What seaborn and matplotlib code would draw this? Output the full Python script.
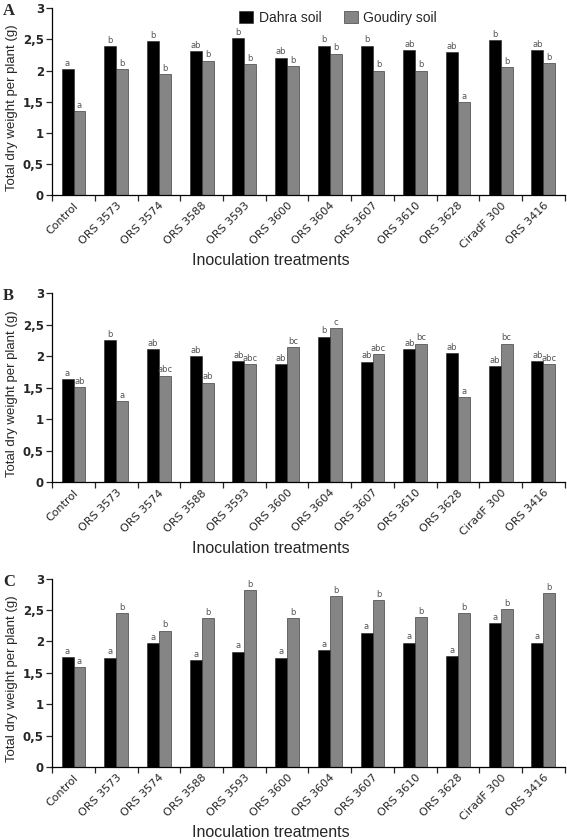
import matplotlib
matplotlib.use("Agg")
import matplotlib.pyplot as plt
import seaborn as sns
import pandas as pd
from matplotlib.patches import Patch
from matplotlib.ticker import FixedLocator

treatments = ["Control", "ORS 3573", "ORS 3574", "ORS 3588", "ORS 3593", "ORS 3600",
              "ORS 3604", "ORS 3607", "ORS 3610", "ORS 3628", "CiradF 300", "ORS 3416"]
soils = ["Dahra soil", "Goudiry soil"]

# panel A
a_dahra = [2.02, 2.39, 2.47, 2.31, 2.52, 2.21, 2.40, 2.40, 2.33, 2.30, 2.49, 2.33]
a_goudiry = [1.35, 2.02, 1.94, 2.16, 2.10, 2.07, 2.27, 2.00, 2.00, 1.49, 2.05, 2.12]
a_dahra_let = ["a", "b", "b", "ab", "b", "ab", "b", "b", "ab", "ab", "b", "ab"]
a_goudiry_let = ["a", "b", "b", "b", "b", "b", "b", "b", "b", "a", "b", "b"]

# panel B
b_dahra = [1.63, 2.25, 2.11, 2.00, 1.92, 1.87, 2.31, 1.91, 2.11, 2.05, 1.84, 1.92]
b_goudiry = [1.51, 1.29, 1.69, 1.58, 1.87, 2.14, 2.44, 2.03, 2.20, 1.35, 2.20, 1.87]
b_dahra_let = ["a", "b", "ab", "ab", "ab", "ab", "b", "ab", "ab", "ab", "ab", "ab"]
b_goudiry_let = ["ab", "a", "abc", "ab", "abc", "bc", "c", "abc", "bc", "a", "bc", "abc"]

# panel C
c_dahra = [1.75, 1.74, 1.97, 1.70, 1.84, 1.74, 1.86, 2.14, 1.98, 1.77, 2.29, 1.98]
c_goudiry = [1.59, 2.45, 2.17, 2.37, 2.82, 2.37, 2.72, 2.66, 2.39, 2.45, 2.51, 2.77]
c_dahra_let = ["a"] * 12
c_goudiry_let = ["a", "b", "b", "b", "b", "b", "b", "b", "b", "b", "b", "b"]

colors = ["#000000", "#858585"]
yticks = [0, 0.5, 1, 1.5, 2, 2.5, 3]
ytick_labels = ["0", "0,5", "1", "1,5", "2", "2,5", "3"]

panels = [
    ("A", a_dahra, a_goudiry, a_dahra_let, a_goudiry_let),
    ("B", b_dahra, b_goudiry, b_dahra_let, b_goudiry_let),
    ("C", c_dahra, c_goudiry, c_dahra_let, c_goudiry_let),
]
# axes rectangles in figure fractions
rects = [
    [0.092, 0.768, 0.904, 0.222],
    [0.092, 0.426, 0.904, 0.225],
    [0.092, 0.087, 0.904, 0.224],
]

sns.set_style("white")
plt.rcParams["font.family"] = ["DejaVu Sans"]

fig = plt.figure(figsize=(5.67, 8.4), dpi=100)

for (letter, dahra, goudiry, d_let, g_let), rect in zip(panels, rects):
    ax = fig.add_axes(rect)
    df = pd.DataFrame({
        "treatment": treatments * 2,
        "soil": [soils[0]] * 12 + [soils[1]] * 12,
        "weight": dahra + goudiry,
    })
    sns.barplot(data=df, x="treatment", y="weight", hue="soil", order=treatments,
                hue_order=soils, palette=colors, width=0.56, legend=False,
                edgecolor="#222222", linewidth=0.4, ax=ax)
    for cont, labs in zip(ax.containers, [d_let, g_let]):
        ax.bar_label(cont, labels=labs, fontsize=6, color="#555555", padding=1)

    ax.set_ylim(0, 3)
    ax.set_xlim(-0.5, 11.5)
    ax.set_yticks(yticks)
    ax.set_yticklabels(ytick_labels, fontsize=8.5, fontweight="bold")
    ax.set_xticks(range(12))
    ax.set_xticklabels(treatments, rotation=45, ha="right", rotation_mode="anchor",
                       fontsize=8)
    ax.xaxis.set_minor_locator(FixedLocator([i - 0.5 for i in range(13)]))
    ax.tick_params(axis="x", which="major", length=0, pad=4)
    ax.tick_params(axis="x", which="minor", length=4, width=0.9, direction="out",
                   bottom=True)
    ax.tick_params(axis="y", length=4, width=0.9, direction="out", left=True, pad=2)
    for side in ["top", "right"]:
        ax.spines[side].set_visible(False)
    for side in ["left", "bottom"]:
        ax.spines[side].set_color("black")
        ax.spines[side].set_linewidth(0.9)
    ax.set_xlabel("Inoculation treatments", fontsize=11.5, family="Liberation Sans")
    ax.xaxis.set_label_coords(0.427, -0.31)
    ax.set_ylabel("Total dry weight per plant (g)", fontsize=9.5, family="Liberation Sans")
    ax.yaxis.set_label_coords(-0.066, 0.47)
    ax.text(0.005, rect[1] + rect[3] + 0.006, letter, transform=fig.transFigure,
            fontsize=12, fontweight="bold", family="Liberation Serif",
            va="top", ha="left")

    if letter == "A":
        handles = [Patch(facecolor=c, edgecolor="#222222", linewidth=0.4) for c in colors]
        ax.legend(handles, soils, loc="upper center", bbox_to_anchor=(0.558, 1.055),
                  ncol=2, frameon=False, handlelength=1.0,
                  handleheight=1.0, columnspacing=1.6, handletextpad=0.4,
                  prop={"family": "Liberation Sans", "size": 10})

fig.savefig("out.png", dpi=100)
plt.close(fig)
